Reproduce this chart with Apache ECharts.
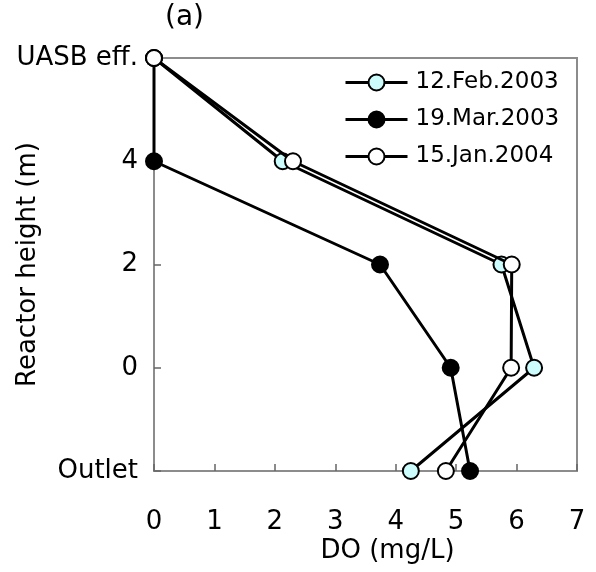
<!DOCTYPE html>
<html>
<head>
<meta charset="utf-8">
<script src="https://cdn.jsdelivr.net/npm/echarts@6/dist/echarts.min.js"></script>
<style>html,body{margin:0;padding:0;background:#fff}#c{width:596px;height:572px}</style>
</head>
<body>
<div id="c"></div>
<script>
var heights = [6, 4, 2, 0, -2];
var heightLabels = {"6": "UASB eff.", "4": "4", "2": "2", "0": "0", "-2": "Outlet"};
var seriesNames = ["12.Feb.2003", "19.Mar.2003", "15.Jan.2004"];
var doFeb2003 = [0, 2.13, 5.75, 6.29, 4.25];
var doMar2003 = [0, 0, 3.74, 4.91, 5.23];
var doJan2004 = [0, 2.30, 5.92, 5.91, 4.83];
var xTicks = [0, 1, 2, 3, 4, 5, 6, 7];

var font = "'DejaVu Sans', 'Noto Sans', sans-serif";
function pairs(vals){ return vals.map(function(v,i){ return [v, heights[i]]; }); }
var fills = ["#ccfcfc", "#000000", "#ffffff"];
var allVals = [doFeb2003, doMar2003, doJan2004];

var chart = echarts.init(document.getElementById('c'));
chart.setOption({
  animation: false,
  backgroundColor: '#fff',
  title: {text: '(a)', left: 160, top: -1, textStyle: {fontFamily: font, fontSize: 28, fontWeight: 'normal', color: '#000'}},
  grid: {left: 154, right: 19, top: 58, bottom: 101, containLabel: false, outerBoundsMode: 'none',
    show: true, borderColor: '#8c8c8c', borderWidth: 2, backgroundColor: 'transparent'},
  legend: {
    orient: 'vertical', left: 339, top: 66, itemWidth: 62, itemHeight: 20, itemGap: 14,
    lineStyle: {width: 3},
    textStyle: {fontFamily: font, fontSize: 23, color: '#000', padding: [0,0,0,3]},
    data: seriesNames
  },
  xAxis: {
    type: 'value', min: xTicks[0], max: xTicks[xTicks.length-1], interval: 1,
    name: 'DO (mg/L)', nameLocation: 'middle', nameGap: 67, nameMoveOverlap: false,
    nameTextStyle: {fontFamily: font, fontSize: 26, color: '#000', padding: [0,0,0,44]},
    axisLine: {show: true, onZero: false, lineStyle: {color: '#8c8c8c', width: 2}},
    axisTick: {show: true, inside: true, length: 7, lineStyle: {color: '#666', width: 1.5}},
    axisLabel: {fontFamily: font, fontSize: 26, color: '#000', margin: 38},
    splitLine: {show: false}
  },
  yAxis: {
    type: 'value', min: -2, max: 6, interval: 2,
    name: 'Reactor height (m)', nameLocation: 'middle', nameGap: 113, nameRotate: 90, nameMoveOverlap: false,
    nameTextStyle: {fontFamily: font, fontSize: 26, color: '#000'},
    axisLine: {show: true, onZero: false, lineStyle: {color: '#8c8c8c', width: 2}},
    axisTick: {show: true, inside: true, length: 7, lineStyle: {color: '#666', width: 1.5}},
    axisLabel: {fontFamily: font, fontSize: 26, color: '#000', margin: 16,
      formatter: function(v){ return heightLabels[String(v)]; }},
    splitLine: {show: false}
  },
  series: seriesNames.map(function(n, i){
    return {
      name: n, type: 'line', data: pairs(allVals[i]),
      symbol: 'circle', symbolSize: 16,
      lineStyle: {color: '#000', width: 3},
      itemStyle: {color: fills[i], borderColor: '#000', borderWidth: 2},
      z: 2 + i
    };
  })
});
</script>
</body>
</html>
